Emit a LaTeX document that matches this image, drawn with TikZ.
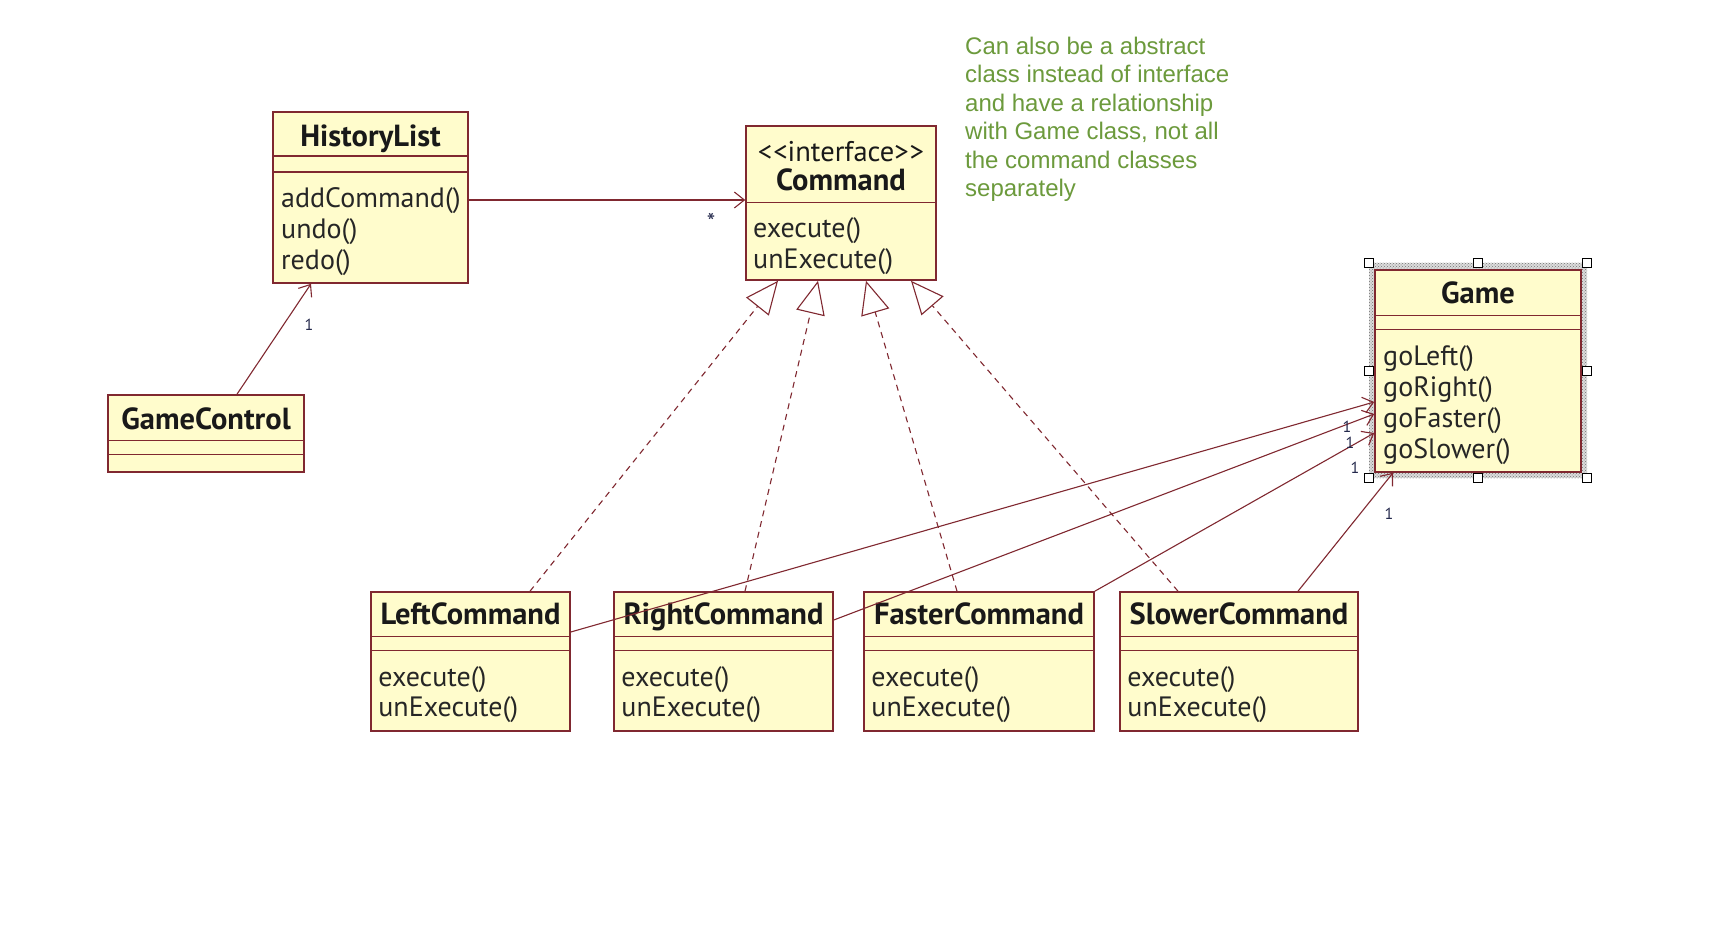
\documentclass[tikz,border=0pt]{standalone}
\usepackage{fontspec}
\newfontfamily\umlfont{PT Sans}
\newfontfamily\notefont{Liberation Sans}
\usetikzlibrary{arrows.meta,calc,positioning,patterns}

\definecolor{umlfill}{RGB}{255,252,204}
\definecolor{umlline}{RGB}{128,40,48}
\definecolor{notegreen}{RGB}{108,154,60}
\definecolor{multcol}{RGB}{35,40,75}

\tikzset{
  classbox/.style={draw=umlline, fill=umlfill, line width=1.6pt, rectangle, inner sep=0pt},
  sepline/.style={umlline, line width=1.4pt},
  classname/.style={font=\umlfont\fontsize{30.5}{34}\selectfont\bfseries, text=black!90,
    inner sep=0pt, text height=26pt, text depth=3pt},
  method/.style={font=\umlfont\fontsize{28}{31}\selectfont, text=black!85, anchor=west,
    inner sep=0pt, text height=26pt, text depth=3pt},
  assoc/.style={umlline, line width=1.1pt, -{Straight Barb[length=10pt,width=16pt,line width=1.1pt]}},
  realize/.style={umlline, line width=1.1pt, dash pattern=on 6pt off 5pt,
    -{Triangle[open,length=33pt,width=29pt,fill=white,line width=1.1pt]}},
  mult/.style={font=\umlfont\fontsize{16}{18}\selectfont, text=multcol, inner sep=0pt},
  handle/.style={draw=black, fill=white, line width=1pt, minimum size=9pt, inner sep=0pt},
}

\begin{document}
\begin{tikzpicture}[x=1pt,y=-1pt]
  \useasboundingbox (0,0) rectangle (1728,952);
  \fill[white] (0,0) rectangle (1728,952);

  % HistoryList
  \node[classbox, minimum width=195pt, minimum height=171pt] (hist) at (370.5,197.5) {};
  \draw[sepline] ($(hist.north west)+(0,45)$) -- ($(hist.north east)+(0,45)$);
  \draw[sepline] ($(hist.north west)+(0,61)$) -- ($(hist.north east)+(0,61)$);
  \node[classname] (hist-name) at (370.5,135) {HistoryList};
  \node[method] (hist-m1) at (281,196) {addCommand()};
  \node[method] (hist-m2) at (281,227) {undo()};
  \node[method] (hist-m3) at (281,258) {redo()};

  % Command interface
  \node[classbox, minimum width=190pt, minimum height=154pt] (cmd) at (841,203) {};
  \draw[sepline] ($(cmd.north west)+(0,77)$) -- ($(cmd.north east)+(0,77)$);
  \node[classname, font=\umlfont\fontsize{28.5}{31}\selectfont] (cmd-stereo) at (841,150) {<\kern1pt<interface>\kern1pt>};
  \node[classname] (cmd-name) at (841,179) {Command};
  \node[method] (cmd-m1) at (753,226) {execute()};
  \node[method] (cmd-m2) at (753,257) {unExecute()};

  % GameControl
  \node[classbox, minimum width=196pt, minimum height=77pt] (gc) at (206,433.5) {};
  \draw[sepline] ($(gc.north west)+(0,46)$) -- ($(gc.north east)+(0,46)$);
  \draw[sepline] ($(gc.north west)+(0,60)$) -- ($(gc.north east)+(0,60)$);
  \node[classname] (gc-name) at (206,418) {GameControl};

  % Game (selected)
  \node[fill=black!14, minimum width=218pt, minimum height=215pt, inner sep=0pt] (gamesel) at (1478,370.5) {};
  \fill[pattern=crosshatch dots, pattern color=black!55] (gamesel.north west) rectangle (gamesel.south east);
  \node[classbox, minimum width=206pt, minimum height=202pt] (game) at (1478,371) {};
  \draw[sepline] ($(game.north west)+(0,46)$) -- ($(game.north east)+(0,46)$);
  \draw[sepline] ($(game.north west)+(0,60)$) -- ($(game.north east)+(0,60)$);
  \node[classname] (game-name) at (1478,292) {Game};
  \node[method] (game-m1) at (1383,354) {goLeft()};
  \node[method] (game-m2) at (1383,385) {goRight()};
  \node[method] (game-m3) at (1383,416) {goFaster()};
  \node[method] (game-m4) at (1383,447) {goSlower()};
  \foreach \a in {north west,north,north east,east,south east,south,south west,west}
    \node[handle] at (gamesel.\a) {};

  % concrete commands
  \foreach \id/\name/\cx/\w in {left/LeftCommand/470.5/199, right/RightCommand/723.5/219,
      faster/FasterCommand/979/230, slower/SlowerCommand/1239/238} {
    \node[classbox, minimum width=\w pt, minimum height=139pt] (\id) at (\cx,661.5) {};
    \draw[sepline] ($(\id.north west)+(0,45)$) -- ($(\id.north east)+(0,45)$);
    \draw[sepline] ($(\id.north west)+(0,59.5)$) -- ($(\id.north east)+(0,59.5)$);
    \node[classname] (\id-name) at (\cx,613) {\name};
    \node[method] (\id-m1) at ($(\id.north west)+(8,84)$) {execute()};
    \node[method] (\id-m2) at ($(\id.north west)+(8,114)$) {unExecute()};
  }

  % associations
  \draw[assoc] (hist.east |- 0,200) -- (cmd.west |- 0,200);
  \node[mult, font=\umlfont\fontsize{24}{26}\selectfont] (star) at (711,222) {*};
  \draw[assoc] (gc.north -| 237,0) -- (hist.south -| 311,0);
  \node[mult] (one-gc) at (309,325) {1};

  % realizations
  \draw[realize] (left.north -| 530,0) -- (cmd.south -| 778,0);
  \draw[realize] (right.north -| 745,0) -- (cmd.south -| 818,0);
  \draw[realize] (faster.north -| 957,0) -- (cmd.south -| 866,0);
  \draw[realize] (slower.north -| 1178,0) -- (cmd.south -| 911,0);

  % command -> game
  \draw[assoc] (left.east |- 0,632) -- (game.west |- 0,402);
  \draw[assoc] (right.east |- 0,620) -- (game.west |- 0,414);
  \draw[assoc] (faster.north east) -- (game.west |- 0,433);
  \draw[assoc] (slower.north -| 1298,0) -- (game.south -| 1393,0);
  \node[mult] (one-l) at (1347,427) {1};
  \node[mult] (one-r) at (1350,443) {1};
  \node[mult] (one-f) at (1355,468) {1};
  \node[mult] (one-s) at (1389,514) {1};

  % note
  \node[font=\notefont\fontsize{24}{28.5}\selectfont, text=notegreen, align=left,
    anchor=north west, inner sep=0pt] (note) at (965,36.5)
    {Can also be a abstract\\class instead of interface\\and have a relationship\\with Game class, not all\\the command classes\\separately};
\end{tikzpicture}
\end{document}
